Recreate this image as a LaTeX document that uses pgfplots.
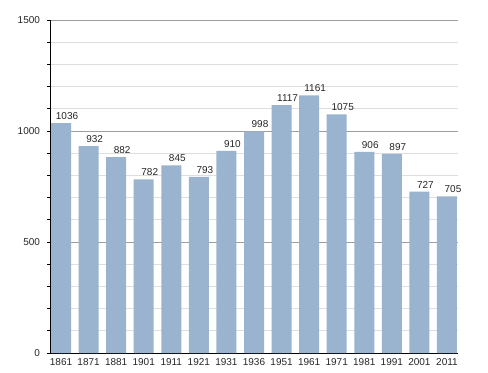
\documentclass[border=0pt]{standalone}
\usepackage{pgfplots}
\pgfplotsset{compat=1.18}
\usepackage{fontspec}
\setmainfont{Liberation Sans}
\definecolor{barc}{RGB}{154,179,206}
\begin{document}
\begin{tikzpicture}
\begin{axis}[
  scale only axis,
  width=408bp, height=333bp,
  xmin=-0.4, xmax=14.4,
  ymin=0, ymax=1500,
  axis x line=bottom, axis y line=left,
  axis line style={-, black, line width=0.8bp},
  ytick={0,500,1000,1500},
  minor y tick num=4,
  tick align=outside,
  major tick length=2.5bp, minor tick length=2.5bp,
  tick style={black, line width=0.6bp},
  xtick={0,...,14},
  xticklabels={1861,1871,1881,1901,1911,1921,1931,1936,1951,1961,1971,1981,1991,2001,2011},
  x tick style={draw=none},
  ymajorgrids, yminorgrids,
  major grid style={draw=black!38, line width=0.6bp},
  minor grid style={draw=black!13, line width=0.6bp},
  /pgf/number format/assume math mode=true,
  /pgf/number format/1000 sep={},
  tick label style={font=\fontsize{10bp}{12bp}\selectfont, text=black!85},
  yticklabel style={xshift=-4bp},
  xticklabel style={yshift=1bp},
  axis on top=false,
  clip=false,
]
\addplot[ybar, bar width=20bp, fill=barc, draw=none,
  nodes near coords,
  nodes near coords style={font=\fontsize{10bp}{12bp}\selectfont, text=black!85, xshift=6bp, yshift=0bp},
] coordinates {
(0,1036) (1,932) (2,882) (3,782) (4,845) (5,793) (6,910) (7,998)
(8,1117) (9,1161) (10,1075) (11,906) (12,897) (13,727) (14,705)};
\end{axis}
\path[use as bounding box] (-50bp,-20bp) rectangle (438bp,353bp);
\end{tikzpicture}
\end{document}
